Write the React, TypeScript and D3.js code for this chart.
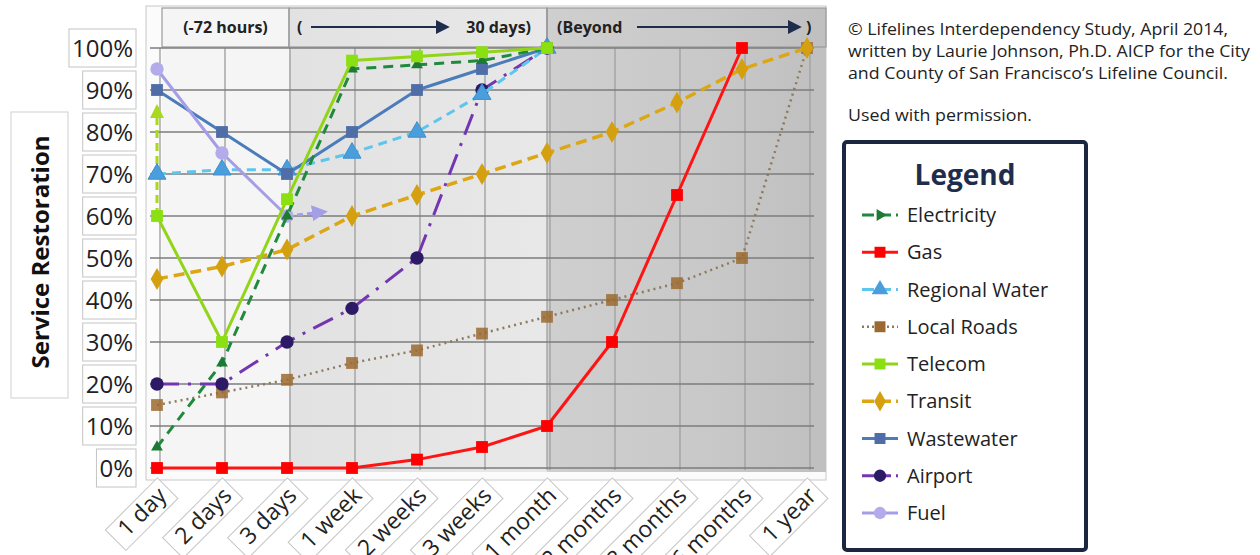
import React, { useEffect, useRef } from 'react';
import * as d3 from 'd3';

// categories and values
const categories = ['1 day', '2 days', '3 days', '1 week', '2 weeks', '3 weeks', '1 month', '2 months', '3 months', '6 months', '1 year'];
const yTicks = [0, 10, 20, 30, 40, 50, 60, 70, 80, 90, 100];

const electricity = [5, 25, 60, 95, 96, 97, 100];
const gas = [0, 0, 0, 0, 2, 5, 10, 30, 65, 100];
const regionalWater = [70, 71, 71, 75, 80, 89, 100];
const localRoads = [15, 18, 21, 25, 28, 32, 36, 40, 44, 50, 100];
const telecom = [60, 30, 64, 97, 98, 99, 100];
const transit = [45, 48, 52, 60, 65, 70, 75, 80, 87, 95, 100];
const wastewater = [90, 80, 70, 80, 90, 95, 100];
const airport = [20, 20, 30, 38, 50, 90, 100];
const fuel = [95, 75, 60];
// little arrows drawn next to the series
const telecomArrow = [60, 86];
const fuelArrow = [60, 61];

const headerTexts = ['(-72 hours)', '(', '30 days)', '(Beyond', ')'];
const creditLines = [
  '\u00A9 Lifelines Interdependency Study, April 2014,',
  'written by Laurie Johnson, Ph.D. AICP for the City',
  "and County of San Francisco\u2019s Lifeline Council.",
];
const permission = 'Used with permission.';

const series = [
  { name: 'Electricity', values: electricity, color: '#1f8a3c', mark: '#1c7a34', dash: '10,7', width: 3, symbol: 'arrow' },
  { name: 'Gas', values: gas, color: '#ff1414', mark: '#ff0000', dash: null, width: 3, symbol: 'square' },
  { name: 'Regional Water', values: regionalWater, color: '#5cc6ee', mark: '#4a9edc', dash: '9,6', width: 3, symbol: 'triangle' },
  { name: 'Local Roads', values: localRoads, color: '#8c7a5c', mark: '#9c6a30', dash: '2,4', width: 2.5, symbol: 'square' },
  { name: 'Telecom', values: telecom, color: '#92d418', mark: '#8ae010', dash: null, width: 3, symbol: 'square' },
  { name: 'Transit', values: transit, color: '#dca614', mark: '#d4a010', dash: '11,6', width: 3.5, symbol: 'diamond' },
  { name: 'Wastewater', values: wastewater, color: '#4a7cba', mark: '#4f6ea8', dash: null, width: 3, symbol: 'square' },
  { name: 'Airport', values: airport, color: '#7436b0', mark: '#2c1a66', dash: '22,9,3,9', width: 3, symbol: 'circle' },
  { name: 'Fuel', values: fuel, color: '#a49ee6', mark: '#b4acea', dash: null, width: 3, symbol: 'circle' },
];
const drawOrder = ['Local Roads', 'Transit', 'Airport', 'Regional Water', 'Wastewater', 'Fuel', 'Electricity', 'Telecom', 'Gas'];

const FONT = "'Open Sans', 'Liberation Sans', sans-serif";

function symbolPath(kind: string, size: number) {
  const t = kind === 'square' ? d3.symbolSquare
    : kind === 'triangle' ? d3.symbolTriangle
    : kind === 'diamond' ? d3.symbolDiamond
    : kind === 'arrow' ? d3.symbolTriangle
    : d3.symbolCircle;
  return d3.symbol().type(t).size(size)();
}

export default function App() {
  const ref = useRef<SVGSVGElement>(null);

  useEffect(() => {
    const svg = d3.select(ref.current);
    svg.selectAll('*').remove();

    const x = d3.scalePoint<string>().domain(categories).range([157, 807]);
    const y = d3.scaleLinear().domain([0, 100]).range([468, 48]);
    const px = (c: string) => x(c) as number;
    const step = x.step();

    const defs = svg.append('defs');
    const g3 = defs.append('linearGradient').attr('id', 'beyond').attr('x1', 0).attr('x2', 1);
    g3.append('stop').attr('offset', 0).attr('stop-color', '#cfcfcf');
    g3.append('stop').attr('offset', 0.6).attr('stop-color', '#c8c8c8');
    g3.append('stop').attr('offset', 1).attr('stop-color', '#bfbfbf');
    const g2 = defs.append('linearGradient').attr('id', 'month').attr('x1', 0).attr('x2', 1);
    g2.append('stop').attr('offset', 0).attr('stop-color', '#e2e2e2');
    g2.append('stop').attr('offset', 1).attr('stop-color', '#e8e8e8');

    const arrowHead = (id: string, color: string, w: number) => {
      defs.append('marker').attr('id', id)
        .attr('viewBox', '0 0 10 10').attr('refX', 8).attr('refY', 5)
        .attr('markerWidth', w).attr('markerHeight', w).attr('markerUnits', 'userSpaceOnUse')
        .attr('orient', 'auto')
        .append('path').attr('d', 'M0,0 L10,5 L0,10 Z').attr('fill', color);
    };
    arrowHead('navyHead', '#1f2d4d', 14);
    arrowHead('telecomHead', '#a8d820', 14);
    arrowHead('fuelHead', '#a49ee6', 16);

    // ---- plot background -----
    const top = 8, bottom = 472;
    const left = 146;
    const b1 = px(categories[0]) + 5;
    const b2 = px(categories[2]) + 2;
    const b3 = px(categories[6]);
    const right = px(categories[10]) + 19;

    svg.append('rect').attr('x', left).attr('y', top - 2).attr('width', right - left).attr('height', bottom - top + 10)
      .attr('fill', '#fbfbfb').attr('stroke', '#c8c8c8');
    svg.append('rect').attr('x', b1).attr('y', top).attr('width', b2 - b1).attr('height', bottom - top).attr('fill', '#f5f5f5');
    svg.append('rect').attr('x', b2).attr('y', top).attr('width', b3 - b2).attr('height', bottom - top).attr('fill', 'url(#month)');
    svg.append('rect').attr('x', b3).attr('y', top).attr('width', right - b3).attr('height', bottom - top).attr('fill', 'url(#beyond)');

    // header cells
    [[b1, b2], [b2, b3], [b3, right]].forEach(([a, b]) => {
      svg.append('rect').attr('x', a).attr('y', top).attr('width', b - a).attr('height', y(100) - top - 1)
        .attr('fill', 'none').attr('stroke', '#9a9a9a').attr('stroke-width', 1.2);
    });

    // grid
    svg.append('g').selectAll('line').data(categories).join('line')
      .attr('x1', d => px(d) + 3).attr('x2', d => px(d) + 3)
      .attr('y1', y(100)).attr('y2', bottom - 2)
      .attr('stroke', '#a2a2a2').attr('stroke-width', 1.4);
    svg.append('line').attr('x1', b3).attr('x2', b3).attr('y1', top).attr('y2', bottom - 2)
      .attr('stroke', '#9a9a9a').attr('stroke-width', 1.2);
    svg.append('g').selectAll('line').data(yTicks).join('line')
      .attr('x1', 150).attr('x2', right - 12)
      .attr('y1', d => y(d)).attr('y2', d => y(d))
      .attr('stroke', '#7c7c7c').attr('stroke-width', 1.5);

    // header text
    const hy = 33;
    const ht = svg.append('g').attr('font-family', FONT).attr('font-weight', 700).attr('font-size', 16).attr('fill', '#222');
    ht.append('text').attr('x', (b1 + b2) / 2).attr('y', hy).attr('text-anchor', 'middle').text(headerTexts[0]);
    ht.append('text').attr('x', b2 + 8).attr('y', hy).text(headerTexts[1]);
    ht.append('text').attr('x', b3 - 16).attr('y', hy).attr('text-anchor', 'end').text(headerTexts[2]);
    ht.append('text').attr('x', b3 + 10).attr('y', hy).text(headerTexts[3]);
    ht.append('text').attr('x', right - 20).attr('y', hy).text(headerTexts[4]);
    svg.append('line').attr('x1', b2 + 22).attr('x2', b3 - 100).attr('y1', hy - 6).attr('y2', hy - 6)
      .attr('stroke', '#1f2d4d').attr('stroke-width', 2).attr('marker-end', 'url(#navyHead)');
    svg.append('line').attr('x1', b3 + 90).attr('x2', right - 27).attr('y1', hy - 6).attr('y2', hy - 6)
      .attr('stroke', '#1f2d4d').attr('stroke-width', 2).attr('marker-end', 'url(#navyHead)');

    // ---- series -----
    const line = d3.line<{ c: string; v: number }>().x(d => px(d.c)).y(d => y(d.v));
    const byName = new Map(series.map(s => [s.name, s]));

    // telecom up arrow at first category
    svg.append('line')
      .attr('x1', px(categories[0])).attr('x2', px(categories[0]))
      .attr('y1', y(telecomArrow[0])).attr('y2', y(telecomArrow[1]))
      .attr('stroke', '#a8d820').attr('stroke-width', 3).attr('stroke-dasharray', '8,5')
      .attr('marker-end', 'url(#telecomHead)');

    drawOrder.forEach(name => {
      const s = byName.get(name)!;
      const pts = s.values.map((v, i) => ({ c: categories[i], v }));
      svg.append('path').attr('d', line(pts)).attr('fill', 'none')
        .attr('stroke', s.color).attr('stroke-width', s.width)
        .attr('stroke-dasharray', s.dash ?? null)
        .attr('stroke-linejoin', 'round');
      if (name === 'Fuel') {
        const last = categories[fuel.length - 1];
        svg.append('line')
          .attr('x1', px(last) + 10).attr('x2', px(last) + step * 0.58)
          .attr('y1', y(fuelArrow[0]) - 1).attr('y2', y(fuelArrow[1]))
          .attr('stroke', s.color).attr('stroke-width', 3).attr('stroke-dasharray', '6,4')
          .attr('marker-end', 'url(#fuelHead)');
      }
      svg.append('g').selectAll('path').data(pts).join('path')
        .attr('d', symbolPath(s.symbol, s.symbol === 'arrow' ? 60 : 140))
        .attr('transform', d => `translate(${px(d.c)},${y(d.v)})`)
        .attr('fill', s.mark)
        .attr('fill-opacity', name === 'Local Roads' ? 0.85 : 1)
        .attr('stroke', s.symbol === 'triangle' ? '#3f8fd0' : 'none')
        .attr('stroke-width', 1);
    });

    // ---- y axis labels -----
    const yl = svg.append('g').attr('font-family', FONT).attr('font-size', 24).attr('fill', '#222');
    yTicks.forEach(t => {
      const g = yl.append('g');
      const txt = g.append('text').attr('x', 133).attr('y', y(t) + 9).attr('text-anchor', 'end').text(`${t}%`);
      const w = (txt.node() as SVGTextElement).getComputedTextLength();
      g.insert('rect', 'text').attr('x', 133 - w - 3).attr('y', y(t) - 19).attr('width', w + 6).attr('height', 38)
        .attr('fill', '#fff').attr('stroke', '#c4c4c4');
    });

    // y title
    svg.append('rect').attr('x', 11).attr('y', 112).attr('width', 57).attr('height', 286)
      .attr('fill', '#fff').attr('stroke', '#cfcfcf');
    svg.append('text').attr('transform', `translate(49,${252}) rotate(-90)`)
      .attr('text-anchor', 'middle').attr('font-family', FONT).attr('font-weight', 700)
      .attr('font-size', 24).attr('fill', '#111').text('Service  Restoration');

    // ---- x axis labels -----
    const xl = svg.append('g').attr('font-family', FONT).attr('font-size', 23).attr('fill', '#222');
    categories.forEach(c => {
      const g = xl.append('g').attr('transform', `translate(${px(c) + 11},${497}) rotate(-45)`);
      const txt = g.append('text').attr('text-anchor', 'end').text(c);
      const w = (txt.node() as SVGTextElement).getComputedTextLength();
      g.insert('rect', 'text').attr('x', -w - 10).attr('y', -21).attr('width', w + 16).attr('height', 29)
        .attr('fill', '#fff').attr('stroke', '#c4c4c4');
    });

    // ---- credits -----
    const cr = svg.append('g').attr('font-family', FONT).attr('font-size', 15.5).attr('fill', '#222');
    const lens = [380, 402, 380];
    const bases = [35, 57, 79];
    creditLines.forEach((l, i) => {
      cr.append('text').attr('x', 848).attr('y', bases[i]).attr('textLength', lens[i])
        .attr('lengthAdjust', 'spacingAndGlyphs').text(l);
    });
    cr.append('text').attr('x', 848).attr('y', 121).attr('textLength', 184)
      .attr('lengthAdjust', 'spacingAndGlyphs').text(permission);

    // ---- legend -----
    const lg = svg.append('g');
    lg.append('rect').attr('x', 844).attr('y', 142).attr('width', 242).attr('height', 408).attr('rx', 3)
      .attr('fill', '#fff').attr('stroke', '#1b2640').attr('stroke-width', 4);
    lg.append('text').attr('x', 965).attr('y', 185).attr('text-anchor', 'middle')
      .attr('font-family', FONT).attr('font-weight', 700).attr('font-size', 28).attr('fill', '#1f2d4d').text('Legend');
    const ly = d3.scalePoint<string>().domain(series.map(s => s.name)).range([215, 513]);
    series.forEach(s => {
      const cy = ly(s.name) as number;
      lg.append('line').attr('x1', 862).attr('x2', 898).attr('y1', cy).attr('y2', cy)
        .attr('stroke', s.color).attr('stroke-width', s.width)
        .attr('stroke-dasharray', s.dash ? (s.name === 'Local Roads' ? '2,3' : '12,5') : null);
      lg.append('path').attr('d', symbolPath(s.symbol, s.symbol === 'arrow' ? 60 : 120))
        .attr('transform', `translate(880,${cy})${s.symbol === 'arrow' ? ' rotate(90)' : ''}`)
        .attr('fill', s.mark);
      lg.append('text').attr('x', 907).attr('y', cy + 7)
        .attr('font-family', FONT).attr('font-size', 20).attr('fill', '#222').text(s.name);
    });
  }, []);

  return (
    <svg ref={ref} width={1260} height={555}
      style={{ position: 'absolute', left: 0, top: 0, background: '#fff' }} />
  );
}
